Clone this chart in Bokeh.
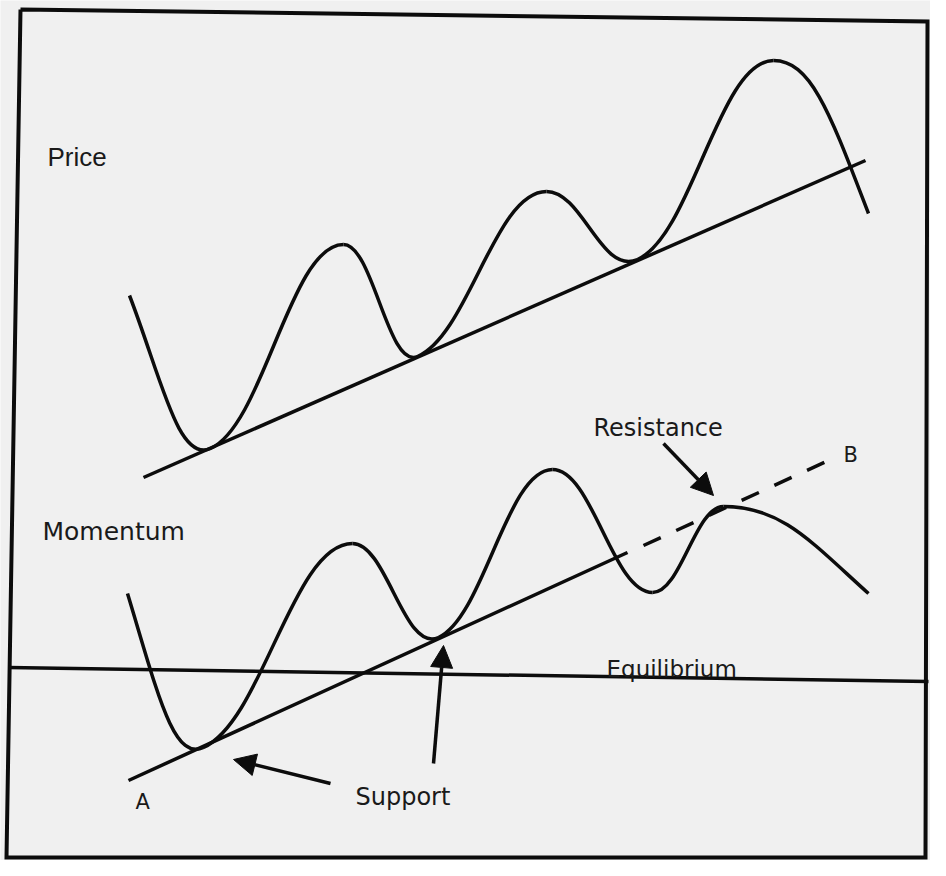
import numpy as np
from bokeh.plotting import figure
from bokeh.models import Range1d, Arrow, NormalHead, Label
from bokeh.embed import file_html
from bokeh.resources import INLINE

# ---- data (picture pixel coordinates, y downward) ----
# Price curve: turning points and tangent slope at each point
price_x = [129, 210, 343, 417, 546, 637, 773, 868]
price_y = [295, 448, 244, 356, 191, 259, 60, 213]
price_slope = [2.6, -0.44, 0.0, -0.44, 0.0, -0.44, 0.0, 2.6]

# Price trend line
price_trend_x = [143, 865]
price_trend_y = [477, 160]

# Momentum curve: turning points and tangent slope at each point
mom_x = [127, 203, 352, 438, 552, 652, 723, 868]
mom_y = [593, 747, 543, 637, 469, 592, 506, 593]
mom_slope = [3.3, -0.46, 0.0, -0.46, 0.0, 0.0, 0.0, 0.9]

# Momentum support line A -> B (solid part, dashed extension)
support_x = [128, 627]
support_y = [780, 552]
support_ext_x = [643, 828]
support_ext_y = [545, 460]

# Equilibrium line
equil_x = [8, 928]
equil_y = [667, 681]

# Frame corners
frame_x = [20, 927, 925, 6, 20]
frame_y = [9, 21, 857, 857, 9]

# Labels
label_text = ["Price", "Momentum", "Resistance", "B", "Equilibrium", "A", "Support"]
label_x = [47, 42, 593, 843, 606, 135, 355]
label_y = [156, 531, 427, 454, 668, 801, 796]
label_size = ["26px", "25px", "24px", "21px", "23px", "21px", "24px"]
label_font = ["Liberation Sans", "DejaVu Sans", "DejaVu Sans", "DejaVu Sans",
              "DejaVu Sans", "DejaVu Sans", "DejaVu Sans"]

# Arrows
arrow_x_start = [663, 330, 433]
arrow_y_start = [443, 783, 763]
arrow_x_end = [713, 233, 443]
arrow_y_end = [495, 759, 645]

INK = "#0c0c0c"
BG = "#f0f0f0"

p = figure(width=930, height=860, output_backend="svg", toolbar_location=None,
           x_range=Range1d(0, 930), y_range=Range1d(860, 0),
           min_border=0, background_fill_color=BG, border_fill_color=BG,
           outline_line_color=None)
p.axis.visible = False
p.grid.visible = False


def bez(xs, ys, ss, k=0.4):
    xs = np.asarray(xs, float); ys = np.asarray(ys, float); ss = np.asarray(ss, float)
    x0, x1 = xs[:-1], xs[1:]
    y0, y1 = ys[:-1], ys[1:]
    s0, s1 = ss[:-1], ss[1:]
    dx = x1 - x0
    return dict(x0=x0, y0=y0, x1=x1, y1=y1,
                cx0=x0 + k * dx, cy0=y0 + s0 * k * dx,
                cx1=x1 - k * dx, cy1=y1 - s1 * k * dx)


# frame
p.line(frame_x, frame_y, line_color=INK, line_width=4, line_join="miter")

# equilibrium
p.line(equil_x, equil_y, line_color=INK, line_width=3.5)

# trend lines
p.line(price_trend_x, price_trend_y, line_color=INK, line_width=3.5)
p.line(support_x, support_y, line_color=INK, line_width=3.5)
p.line(support_ext_x, support_ext_y, line_color=INK, line_width=3.5, line_dash="19 17")

# curves
p.bezier(line_color=INK, line_width=3.5, **bez(price_x, price_y, price_slope))
p.bezier(line_color=INK, line_width=3.5, **bez(mom_x, mom_y, mom_slope))

# arrows
for xs, ys, xe, ye in zip(arrow_x_start, arrow_y_start, arrow_x_end, arrow_y_end):
    p.add_layout(Arrow(end=NormalHead(size=22, fill_color=INK, line_color=INK, line_width=1),
                       x_start=xs, y_start=ys, x_end=xe, y_end=ye,
                       line_color=INK, line_width=3.5))

# labels
for t, x, y, s, f in zip(label_text, label_x, label_y, label_size, label_font):
    p.add_layout(Label(x=x, y=y, text=t, text_font=f, text_font_size=s,
                       text_color="#1a1a1a", text_baseline="alphabetic",
                       text_align="left"))

open("out.html", "w").write(file_html(p, INLINE))
